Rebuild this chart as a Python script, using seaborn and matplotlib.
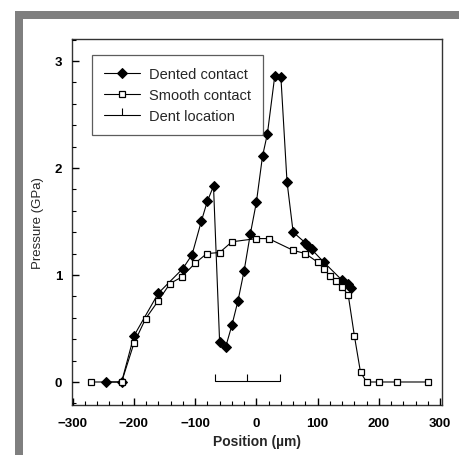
import matplotlib
matplotlib.use("Agg")
import matplotlib.pyplot as plt
import matplotlib.image as mpimg
import seaborn as sns
import pandas as pd
from matplotlib.patches import Rectangle
from matplotlib.ticker import MultipleLocator

sns.set_theme(style="ticks")
plt.rcParams['font.family'] = ['Liberation Sans', 'DejaVu Sans']
plt.rcParams['axes.axisbelow'] = False

dented_x = [-245, -220, -200, -160, -120, -105, -90, -80, -70, -60, -50, -40, -30, -20, -10,
            0, 10, 18, 30, 40, 50, 60, 80, 85, 90, 110, 140, 150, 155]
dented_y = [0.0, 0.0, 0.43, 0.83, 1.06, 1.19, 1.50, 1.69, 1.83, 0.37, 0.33, 0.53, 0.76, 1.04, 1.38,
            1.68, 2.11, 2.32, 2.86, 2.85, 1.87, 1.40, 1.30, 1.27, 1.24, 1.12, 0.95, 0.92, 0.88]

smooth_x = [-270, -220, -200, -181, -160, -141, -122, -100, -81, -60, -40, 0, 20, 60, 80,
            100, 110, 120, 130, 140, 150, 160, 170, 180, 200, 230, 280]
smooth_y = [0.0, 0.0, 0.36, 0.59, 0.76, 0.92, 0.98, 1.11, 1.20, 1.21, 1.31, 1.34, 1.34, 1.23, 1.20,
            1.12, 1.06, 0.99, 0.94, 0.89, 0.81, 0.43, 0.09, 0.0, 0.0, 0.0, 0.0]

dent_x = [-68, -15, 38]
dent_y = [0.01, 0.01, 0.01]

fig = plt.figure(figsize=(4.59, 4.56), dpi=100)
ax = fig.add_axes([72/459, 1-406/456, (442-72)/459, (406-40)/456])
ax.set_axisbelow(False)

df_d = pd.DataFrame({'x': dented_x, 'y': dented_y})
df_s = pd.DataFrame({'x': smooth_x, 'y': smooth_y})
df_l = pd.DataFrame({'x': dent_x, 'y': dent_y})

sns.lineplot(data=df_d, x='x', y='y', sort=False, estimator=None, ax=ax, color='black',
             lw=0.8, marker='D', markersize=5.4, markerfacecolor='black', markeredgecolor='black',
             label='Dented contact')
sns.lineplot(data=df_s, x='x', y='y', sort=False, estimator=None, ax=ax, color='black',
             lw=0.8, marker='s', markersize=4.6, markerfacecolor='white', markeredgecolor='black',
             markeredgewidth=0.9, label='Smooth contact')
sns.lineplot(data=df_l, x='x', y='y', sort=False, estimator=None, ax=ax, color='black',
             lw=0.8, marker=2, markersize=5, markeredgewidth=0.8, markeredgecolor='black',
             label='Dent location')

ax.set_xlim(-301, 303)
ax.set_ylim(-0.215, 3.205)
ax.xaxis.set_major_locator(MultipleLocator(100))
ax.xaxis.set_minor_locator(MultipleLocator(20))
ax.yaxis.set_major_locator(MultipleLocator(1))
ax.yaxis.set_minor_locator(MultipleLocator(0.2))

for s in ax.spines.values():
    s.set_color('#333333')
    s.set_linewidth(1.0)

ax.set_xlabel('Position (µm)', fontsize=10, fontweight='bold', labelpad=3)
ax.set_ylabel('Pressure (GPa)', fontsize=9.5, labelpad=8)

leg = ax.legend(loc='upper left', bbox_to_anchor=(20/370, 1-16/366), fontsize=10.5, frameon=True,
                fancybox=False, edgecolor='#333333', handlelength=2.5, borderpad=0.8,
                labelspacing=0.5, handletextpad=0.6, borderaxespad=0)
leg.get_frame().set_linewidth(0.9)

ax.tick_params(axis='x', which='major', direction='in', length=5, width=1.0, color='black',
               labelsize=9.5, labelcolor='black', bottom=True, top=False, pad=9)
ax.tick_params(axis='y', which='major', direction='in', length=5, width=1.0, color='black',
               labelsize=9.5, labelcolor='black', left=True, right=False, pad=7)
ax.tick_params(axis='both', which='minor', direction='in', length=3, width=0.8, color='black',
               bottom=True, left=True, top=False, right=False)
plt.setp(ax.get_xticklabels() + ax.get_yticklabels(), fontweight='bold')

fig.add_artist(Rectangle((15/459, 0), 8/459, 1-12/456, transform=fig.transFigure,
                         facecolor='#7f7f7f', edgecolor='none'))
fig.add_artist(Rectangle((15/459, 1-20/456), 1, 8/456, transform=fig.transFigure,
                         facecolor='#7f7f7f', edgecolor='none'))

fig.savefig('out.png', dpi=100)

# sanity check that the inward tick at x=100 is actually rendered
img = mpimg.imread('out.png')
H = img.shape[0]
px, py = ax.transData.transform((100, -0.215))
col = int(round(px))
row = int(round(H - py))
vals = [round(float(img[r, c, :3].mean()), 2) for r in range(row - 8, row + 1) for c in (col - 1, col, col + 1)]
if min(vals[:15]) > 0.6:
    t = ax.xaxis.get_major_ticks()[2]
    raise SystemExit('ticks missing: ' + str([col, row, img.shape, vals, t.tick1line.get_visible(),
                                              t.tick1line.get_markersize(), t.tick1line.get_zorder(),
                                              ax.xaxis.get_zorder(), t.get_loc()]))
